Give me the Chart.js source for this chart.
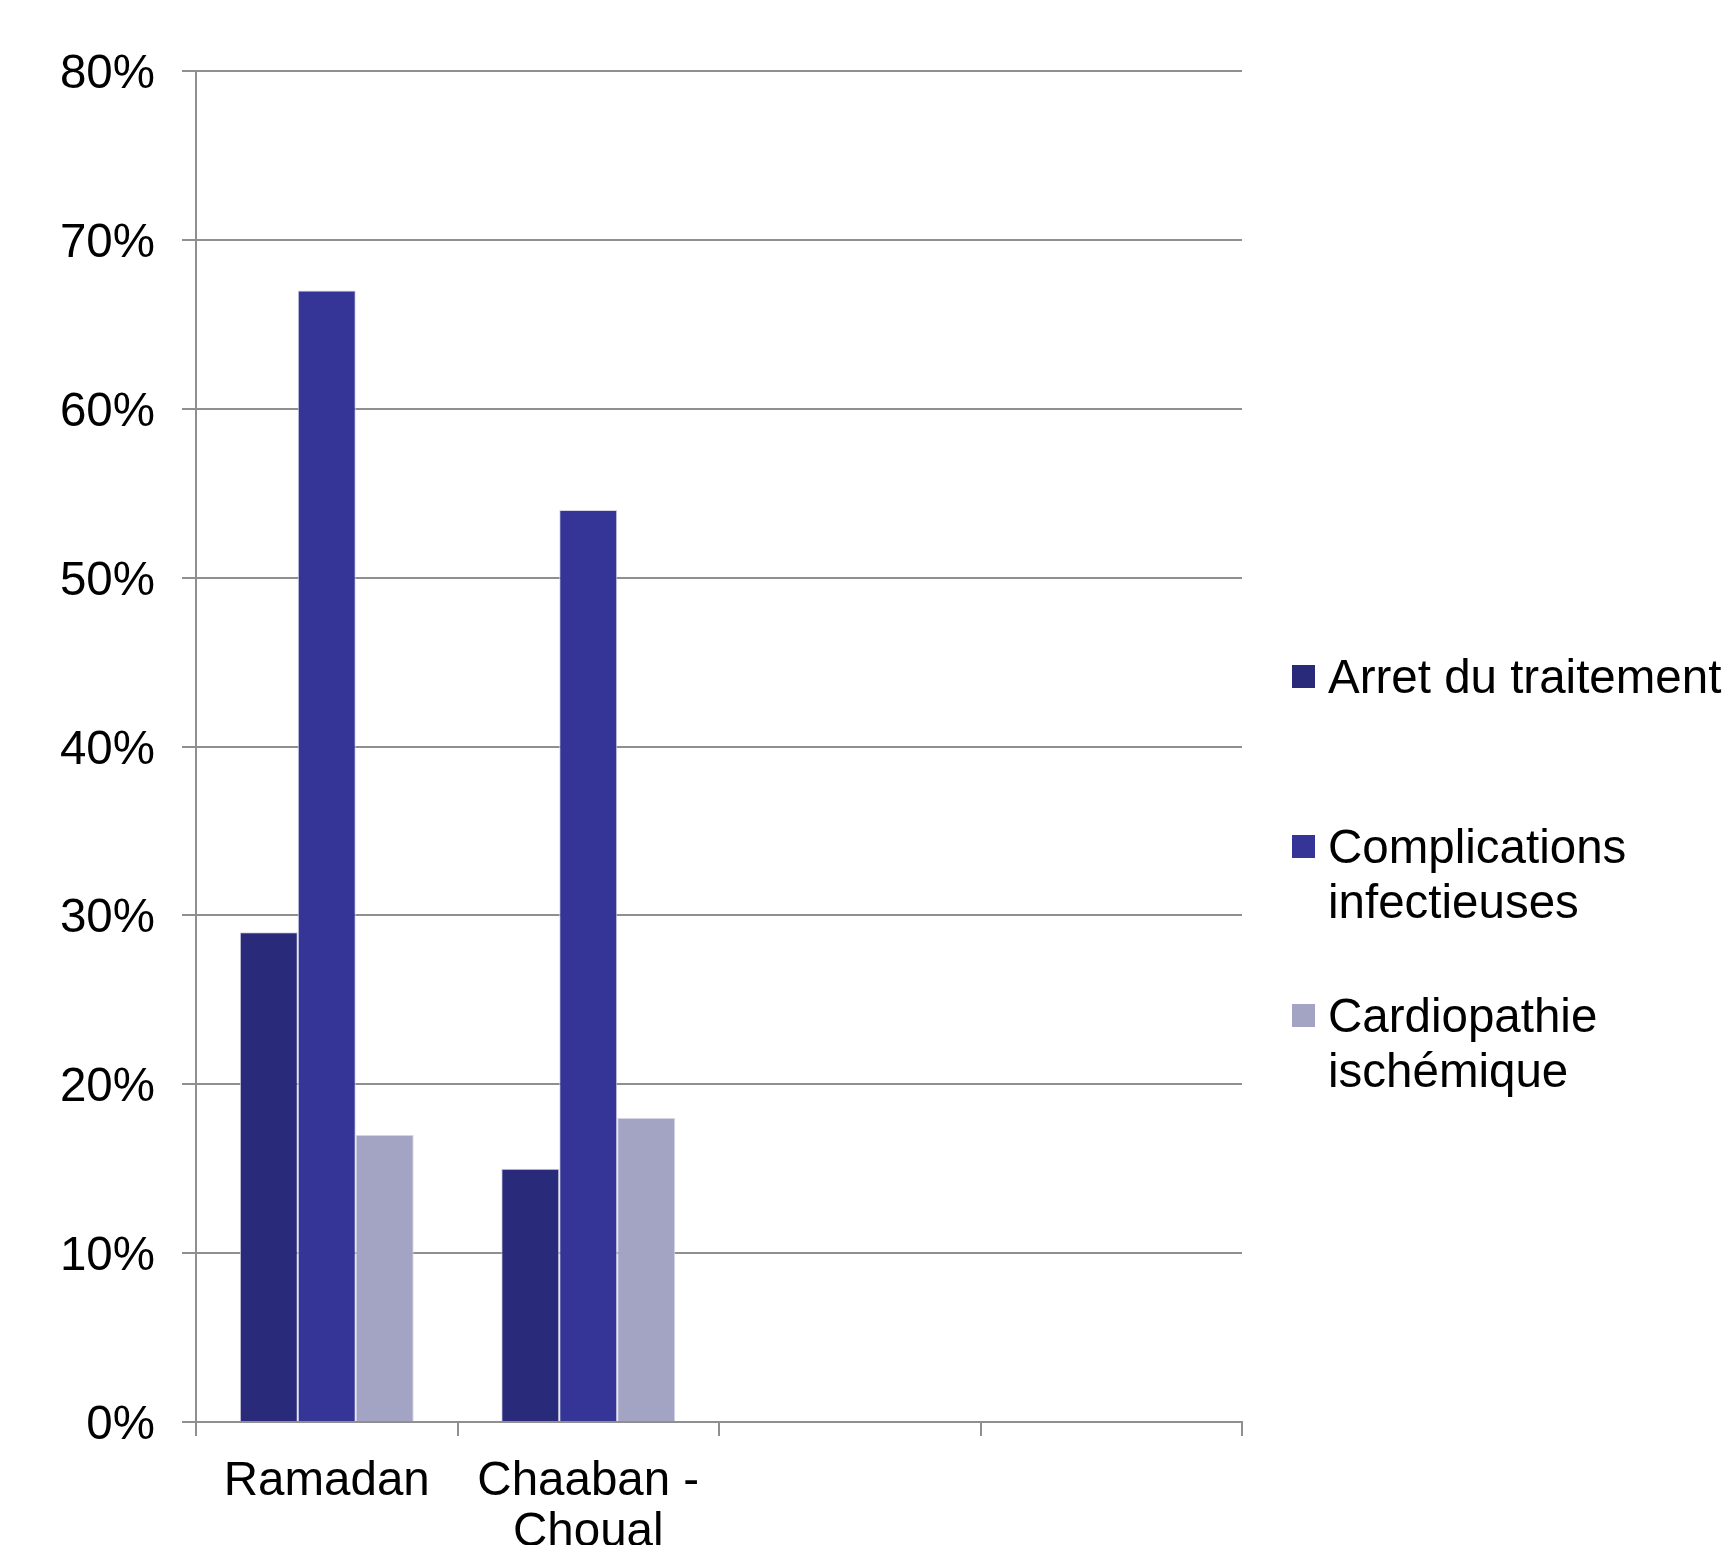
<!DOCTYPE html>
<html>
<head>
<meta charset="utf-8">
<script src="https://cdn.jsdelivr.net/npm/chart.js@4"></script>
<style>
    body { margin: 0; background: #fff; overflow: hidden; }
    #wrap { position: relative; width: 1731px; height: 1545px; }
    #legend { position: absolute; left: 0; top: 0; font-family: "Liberation Sans", Arial, sans-serif; font-size: 47.5px; line-height: 55px; color: #000; }
    .item { position: absolute; left: 1292px; width: 435px; }
    .box { position: absolute; left: 0; width: 23px; height: 23px; top: 16px; }
    .txt { position: absolute; left: 36px; width: 400px; }
</style>
</head>
<body>
<div id="wrap">
    <canvas id="chart"></canvas>
    <div id="legend"></div>
</div>
<script>
// categories (4 slots, only the first two carry data)
const categories = ['Ramadan', ['Chaaban -', 'Choual'], '', ''];
const seriesNames = ['Arret du traitement', 'Complications infectieuses', 'Cardiopathie ischémique'];
const arretValues = [29, 15, null, null];
const complicationsValues = [67, 54, null, null];
const cardiopathieValues = [17, 18, null, null];
const seriesColors = ['#2a2a7b', '#343597', '#a3a4c4'];
const yTicks = [0, 10, 20, 30, 40, 50, 60, 70, 80];

const fontFamily = '"Liberation Sans", Arial, sans-serif';
const gridColor = '#8f8f8f';

const seriesValues = [arretValues, complicationsValues, cardiopathieValues];

const datasets = seriesNames.map((name, i) => ({
    label: name,
    data: seriesValues[i],
    backgroundColor: seriesColors[i],
    borderColor: '#d4d4e4',
    borderWidth: 1,
    borderSkipped: 'bottom',
    barPercentage: 1,
    categoryPercentage: 0.665
}));

new Chart(document.getElementById('chart'), {
    type: 'bar',
    data: { labels: categories, datasets: datasets },
    options: {
        responsive: true,
        maintainAspectRatio: false,
        animation: false,
        layout: { padding: { top: 71, right: 489, left: 0, bottom: 0 } },
        plugins: {
            legend: { display: false },
            tooltip: { enabled: false }
        },
        scales: {
            x: {
                grid: {
                    offset: true,
                    drawOnChartArea: false,
                    drawTicks: true,
                    tickLength: 14,
                    color: gridColor,
                    lineWidth: 2
                },
                border: { color: gridColor, width: 2 },
                ticks: {
                    color: '#000',
                    padding: 21,
                    maxRotation: 0,
                    autoSkip: false,
                    font: { family: fontFamily, size: 47.5, lineHeight: 1.06 }
                },
                afterFit: scale => { scale.height = 123; }
            },
            y: {
                min: 0,
                max: 80,
                afterBuildTicks: scale => { scale.ticks = yTicks.map(v => ({ value: v })); },
                grid: {
                    color: gridColor,
                    lineWidth: 2,
                    tickLength: 14
                },
                border: { color: gridColor, width: 2 },
                ticks: {
                    color: '#000',
                    padding: 27,
                    labelOffset: 4,
                    font: { family: fontFamily, size: 47.5 },
                    callback: v => v + '%'
                },
                afterFit: scale => { scale.width = 196; }
            }
        }
    }
});

// legend on the right, text wraps like the original
const legend = document.getElementById('legend');
seriesNames.forEach((name, i) => {
    const item = document.createElement('div');
    item.className = 'item';
    item.style.top = (649 + i * 169.5) + 'px';
    item.innerHTML = `<div class="box" style="background:${seriesColors[i]}"></div><div class="txt">${name}</div>`;
    legend.appendChild(item);
});
</script>
</body>
</html>
